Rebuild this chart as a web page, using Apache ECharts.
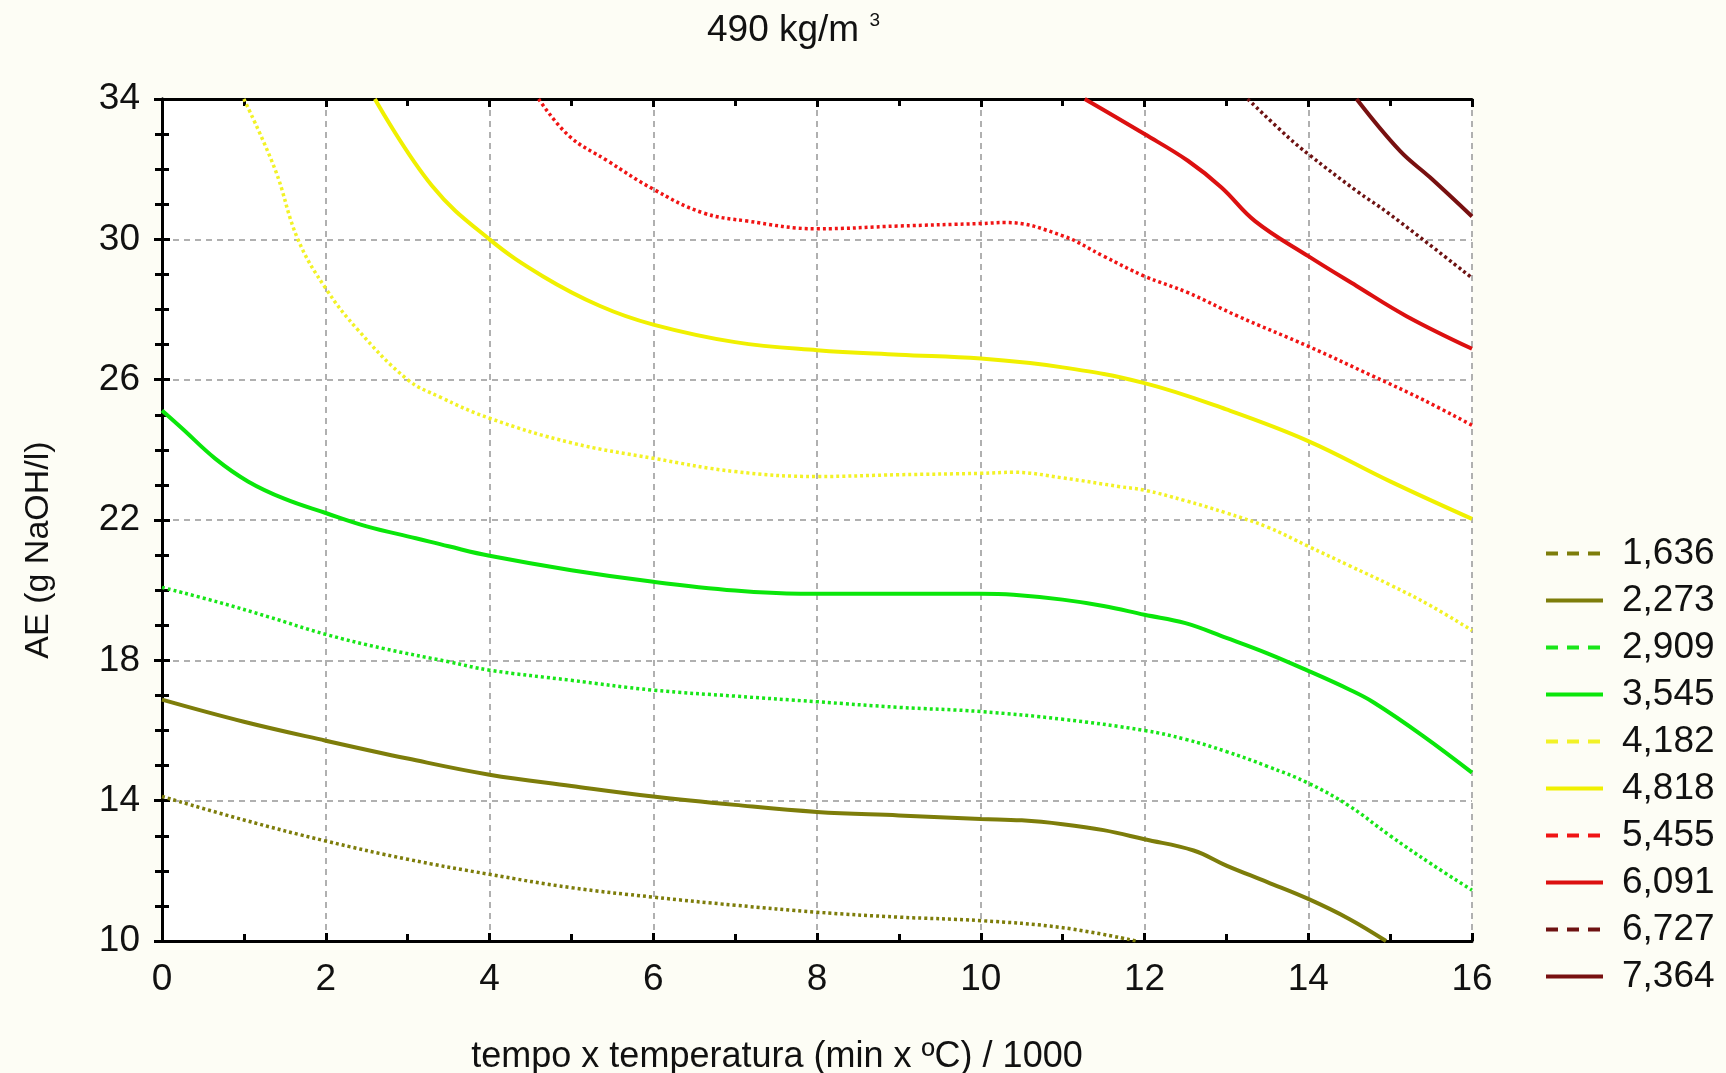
<!DOCTYPE html>
<html>
<head>
<meta charset="utf-8">
<script src="https://cdn.jsdelivr.net/npm/echarts@6/dist/echarts.min.js"></script>
<style>
  html, body { margin: 0; padding: 0; background: #fdfdf5; }
  #container { width: 1726px; height: 1073px; }
</style>
</head>
<body>
<div id="container"></div>
<script>
// contour levels (legend labels)
let levels = ['1,636', '2,273', '2,909', '3,545', '4,182', '4,818', '5,455', '6,091', '6,727', '7,364'];
let colors = ['#7d7d0a', '#7d7d0a', '#19e619', '#0ae60a', '#f2f226', '#f0f000', '#f01414', '#dc1010', '#6e1212', '#781010'];
let dotted = [true, false, true, false, true, false, true, false, true, false];

// curves, [x, AE]
let c1636 = [[0,14.12],[1,13.45],[2,12.85],[3,12.33],[4,11.9],[5,11.52],[6,11.25],[7,11.02],[8,10.82],[9,10.68],[10,10.58],[11,10.38],[11.9,10.0]];
let c2273 = [[0,16.88],[1,16.25],[2,15.71],[3,15.2],[4,14.74],[5,14.42],[6,14.12],[7,13.88],[8,13.68],[9,13.58],[10,13.48],[10.5,13.44],[11,13.33],[11.5,13.16],[12,12.9],[12.6,12.58],[13,12.15],[13.5,11.68],[14,11.2],[14.5,10.63],[14.95,10.0]];
let c2909 = [[0,20.08],[0.7,19.65],[1.3,19.24],[2,18.74],[2.7,18.34],[3.5,17.96],[4,17.72],[5,17.43],[6,17.15],[7,16.98],[8,16.82],[9,16.66],[10,16.54],[11,16.32],[12,16.0],[12.5,15.75],[13,15.4],[13.5,14.98],[14,14.5],[14.5,13.85],[15,13.0],[15.5,12.2],[16,11.45]];
let c3545 = [[0,25.12],[0.25,24.6],[0.65,23.75],[1.05,23.1],[1.5,22.6],[2,22.2],[2.5,21.82],[3.1,21.48],[3.5,21.25],[4,20.98],[5,20.57],[6,20.24],[7,19.99],[7.8,19.9],[9,19.9],[10,19.9],[10.4,19.87],[11,19.73],[11.5,19.55],[12,19.3],[12.5,19.06],[13,18.64],[13.5,18.2],[14,17.7],[14.5,17.17],[14.8,16.8],[15.4,15.85],[16,14.8]];
let c4182 = [[1.0,34],[1.38,32],[1.66,30],[2,28.6],[2.4,27.4],[3,26.0],[3.4,25.5],[4,24.9],[5,24.2],[6,23.76],[7,23.38],[8,23.24],[9,23.29],[10,23.33],[10.4,23.36],[11,23.2],[11.7,22.95],[12,22.85],[12.5,22.55],[13,22.2],[13.5,21.8],[14,21.25],[14.5,20.7],[15,20.15],[15.5,19.55],[16,18.85]];
let c4818 = [[2.6,34],[3.3,31.52],[4,30.0],[4.65,28.95],[5.35,28.1],[6,27.57],[7,27.07],[8,26.84],[9,26.71],[10,26.6],[11,26.35],[12,25.9],[13,25.15],[14,24.25],[15,23.1],[16,22.03]];
let c5455 = [[4.6,34],[4.97,32.95],[5.44,32.24],[6,31.43],[6.6,30.76],[7.15,30.52],[8,30.3],[9,30.38],[10,30.45],[10.3,30.48],[11,30.1],[11.5,29.52],[12,28.95],[12.53,28.48],[13.14,27.81],[14,26.95],[14.79,26.1],[15.4,25.43],[16,24.7]];
let c6091 = [[11.27,34],[12,33.0],[12.53,32.24],[12.94,31.48],[13.35,30.52],[14,29.52],[14.59,28.67],[15.2,27.81],[16,26.88]];
let c6727 = [[13.26,34],[13.76,32.9],[14,32.43],[14.59,31.38],[15,30.71],[16,28.9]];
let c7364 = [[14.59,34],[15.12,32.52],[15.49,31.76],[16,30.65]];

let curves = [c1636, c2273, c2909, c3545, c4182, c4818, c5455, c6091, c6727, c7364];

let dom = document.getElementById('container');
let chart = echarts.init(dom);

let font = 'Liberation Sans, Arial, sans-serif';

let series = curves.map((c, i) => ({
    name: levels[i],
    type: 'line',
    data: c,
    smooth: 0.4,
    symbol: 'none',
    lineStyle: {
        color: colors[i],
        width: dotted[i] ? 3.5 : 4,
        type: dotted[i] ? [3, 3] : 'solid'
    },
    itemStyle: { color: colors[i], opacity: 0 }
}));

let legendData = levels.map((l, i) => ({
    name: l,
    itemStyle: { opacity: 0 },
    lineStyle: { type: dotted[i] ? [12, 9] : 'solid', width: 4 }
}));

let frameAxis = {
    axisLine: { show: true, lineStyle: { color: '#000', width: 3 } },
    axisTick: { show: true, inside: true, length: 8, lineStyle: { color: '#000', width: 3 } },
    minorTick: { show: true, length: 7, lineStyle: { color: '#000', width: 3 } }
};

chart.setOption({
    backgroundColor: '#fdfdf5',
    animation: false,
    title: {
        text: '490 kg/m {sup|3}',
        left: 702,
        top: 6,
        textStyle: {
            fontFamily: font,
            fontSize: 37,
            fontWeight: 'normal',
            color: '#111',
            rich: { sup: { fontSize: 19, verticalAlign: 'top', padding: [0, 0, 20, 0], fontFamily: font, color: '#111' } }
        }
    },
    legend: {
        orient: 'vertical',
        left: 1539,
        top: 529,
        itemWidth: 57,
        itemHeight: 3,
        itemGap: 8,
        textStyle: { fontFamily: font, fontSize: 37, color: '#111', lineHeight: 39, padding: [0, 0, 0, 14] },
        data: legendData
    },
    grid: {
        left: 162, top: 99, width: 1310, height: 842,
        outerBoundsMode: 'none',
        containLabel: false,
        show: true, backgroundColor: '#ffffff', borderWidth: 0
    },
    xAxis: [{
        type: 'value', min: 0, max: 16, interval: 2, position: 'bottom',
        name: 'tempo x temperatura (min x ºC) / 1000',
        nameLocation: 'middle', nameGap: 98,
        nameTextStyle: { fontFamily: font, fontSize: 36, color: '#111', padding: [0, 80, 0, 0] },
        ...frameAxis,
        minorTick: { ...frameAxis.minorTick, splitNumber: 2 },
        axisLabel: { fontFamily: font, fontSize: 37, color: '#111', margin: 20 },
        splitLine: { show: true, lineStyle: { color: '#b0b0b0', width: 2, type: [6, 5] } }
    }, {
        type: 'value', min: 0, max: 16, interval: 2, position: 'top',
        ...frameAxis,
        minorTick: { ...frameAxis.minorTick, splitNumber: 2 },
        axisLabel: { show: false },
        splitLine: { show: false }
    }],
    yAxis: [{
        type: 'value', min: 10, max: 34, interval: 4, position: 'left',
        name: 'AE (g NaOH/l)',
        nameLocation: 'middle', nameGap: 106,
        nameTextStyle: { fontFamily: font, fontSize: 34, color: '#111', padding: [0, 60, 0, 0] },
        ...frameAxis,
        minorTick: { ...frameAxis.minorTick, splitNumber: 4 },
        axisLabel: { fontFamily: font, fontSize: 37, color: '#111', margin: 22 },
        splitLine: { show: true, lineStyle: { color: '#b0b0b0', width: 2, type: [6, 5] } }
    }, {
        type: 'value', min: 10, max: 34, interval: 4, position: 'right',
        ...frameAxis,
        minorTick: { ...frameAxis.minorTick, splitNumber: 4 },
        axisLabel: { show: false },
        splitLine: { show: false }
    }],
    series: series
});
</script>
</body>
</html>
